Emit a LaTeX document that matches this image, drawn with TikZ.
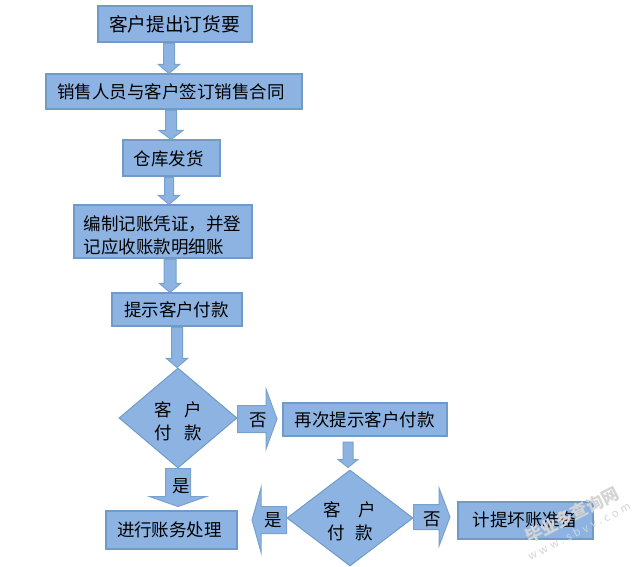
\documentclass[tikz,border=0pt]{standalone}
\usepackage{fontspec}
\setmainfont{Noto Sans CJK SC}
\usetikzlibrary{calc,shapes.geometric}
\definecolor{flowfill}{HTML}{8DB3E2}
\definecolor{flowedge}{HTML}{6F9BC6}
\definecolor{markgray}{HTML}{D4D4D4}
\newcommand{\lift}{\rule{0pt}{21pt}}
\tikzset{
    cnfont/.style={font=\fontsize{17.5}{23}\selectfont},
    stepbox/.style={draw=flowedge, fill=flowfill, line width=2pt, inner sep=0pt, cnfont, text=black},
    checkbox/.style={diamond, draw=flowedge, fill=flowfill, line width=1pt, inner sep=0pt, aspect=1.2, align=center, cnfont},
    arrowtext/.style={inner sep=0pt, cnfont},
    marktext/.style={inner sep=0pt, rotate=27, text=markgray},
    % shaft width / head width / head length
    blockarrow/.style n args={3}{draw=flowedge!70!flowfill, fill=flowfill, line width=1pt, to path={
        ($(\tikztostart)!#1/2!90:(\tikztotarget)$)
        -- ($(\tikztotarget)!#3!(\tikztostart)!#1/2!90:(\tikztotarget)$)
        -- ($(\tikztotarget)!#3!(\tikztostart)!#2/2!90:(\tikztotarget)$)
        -- (\tikztotarget)
        -- ($(\tikztotarget)!#3!(\tikztostart)!#2/2!-90:(\tikztotarget)$)
        -- ($(\tikztotarget)!#3!(\tikztostart)!#1/2!-90:(\tikztotarget)$)
        -- ($(\tikztostart)!#1/2!-90:(\tikztotarget)$) -- cycle}}
}
\begin{document}
\begin{tikzpicture}[x=1pt,y=-1pt]
    \useasboundingbox (0,0) rectangle (641,567);

    % Nodes
    \node[stepbox, minimum width=154pt, minimum height=36pt, font=\fontsize{18.7}{23}\selectfont] (order) at (174.5,24.5) {客户提出订货要};
    \node[stepbox, minimum width=256pt, minimum height=35pt] (contract) at (173.5,92) {销售人员与客户签订销售合同\hspace*{5pt}};
    \node[stepbox, minimum width=97pt, minimum height=36pt] (ship) at (171,158.5) {仓库发货\hspace*{5pt}};
    \node[stepbox, minimum width=178pt, minimum height=53pt, align=left] (voucher) at (162.5,232) {\lift 编制记账凭证，并登\\记应收账款明细账};
    \node[stepbox, minimum width=130pt, minimum height=33pt] (remind) at (176.5,310) {提示客户付款};
    \node[stepbox, minimum width=164pt, minimum height=33pt] (again) at (364.5,419.5) {再次提示客户付款};
    \node[stepbox, minimum width=131pt, minimum height=38pt] (process) at (171,529.5) {进行账务处理\hspace*{3pt}};
    \node[stepbox, minimum width=135pt, minimum height=37pt] (baddebt) at (525,520) {计提坏账准备};
    \node[checkbox, minimum width=118pt, minimum height=100pt] (pay) at (178,418) {\lift 客\hspace{0.7em}户\\付\hspace{0.7em}款};
    \node[checkbox, minimum width=126pt, minimum height=96pt] (paytwo) at (350,518) {\lift 客\hspace{1em}户\\付\hspace{0.6em}款};

    % Arrows
    \draw[blockarrow={11pt}{21pt}{9pt}] ([xshift=-5.5pt]order.south) to ([xshift=-4.5pt]contract.north);
    \draw[blockarrow={11pt}{24pt}{9pt}] ([xshift=-2.5pt]contract.south) to (ship.north);
    \draw[blockarrow={9pt}{21pt}{9pt}] ([xshift=-2pt]ship.south) to ([xshift=6.5pt]voucher.north);
    \draw[blockarrow={12pt}{21pt}{9pt}] ([xshift=7.5pt]voucher.south) to ([xshift=-6.5pt]remind.north);
    \draw[blockarrow={11pt}{21pt}{9pt}] ([xshift=0.5pt]remind.south) to ([xshift=-1pt]pay.north);
    \draw[blockarrow={27pt}{60pt}{11pt}] ([yshift=-1pt]pay.east) to ([xshift=-4.5pt,yshift=0.5pt]again.west);
    \draw[blockarrow={25pt}{57pt}{10pt}] (pay.south) to ([xshift=7pt,yshift=3pt]process.north);
    \draw[blockarrow={10pt}{20pt}{8pt}] ([xshift=-16.5pt,yshift=-5pt]again.south) to ([xshift=-2pt,yshift=2pt]paytwo.north);
    \draw[blockarrow={27pt}{64pt}{9pt}] ([yshift=-2pt]paytwo.west) to ([xshift=14.5pt,yshift=9.5pt]process.east);
    \draw[blockarrow={25pt}{58pt}{11pt}] ([yshift=1pt]paytwo.east) to ([xshift=-6.5pt,yshift=3pt]baddebt.west);

    % Arrow labels
    \node[arrowtext] (nolabel) at (258,420) {否};
    \node[arrowtext] (yeslabel) at (181,486) {是};
    \node[arrowtext] (yestwolabel) at (273,520) {是};
    \node[arrowtext] (notwolabel) at (432,519) {否};

    % Site mark
    \node[marktext, font=\bfseries\fontsize{17}{17}\selectfont] (markname) at (572,515) {毕业多查询网};
    \node[marktext, font=\fontsize{11}{11}\selectfont\addfontfeature{LetterSpace=30}] (markurl) at (579,531) {www.sbvv.com};
\end{tikzpicture}
\end{document}
